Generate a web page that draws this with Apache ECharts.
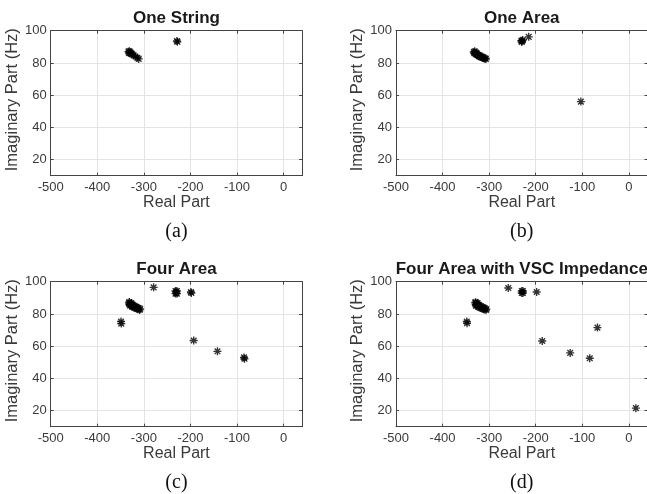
<!DOCTYPE html>
<html><head><meta charset="utf-8">
<script src="https://cdn.jsdelivr.net/npm/echarts@6/dist/echarts.min.js"></script>
<style>html,body{margin:0;padding:0;background:#fff;}#c{width:647px;height:494px;}</style>
</head><body><div id="c"></div>
<script>
const titles = ['One String', 'One Area', 'Four Area', 'Four Area with VSC Impedance'];
const captions = ['(a)', '(b)', '(c)', '(d)'];
const xTicks = [-500, -400, -300, -200, -100, 0];
const yTicks = [20, 40, 60, 80, 100];
const xRange = [-500, 40];
const yRange = [10, 100];
const xName = 'Real Part';
const yName = 'Imaginary Part (Hz)';

const oneString = [
  [-333, 87.0], [-332, 86.2], [-331, 87.3], [-330, 86.0], [-329, 86.6], [-327, 85.9],
  [-325, 85.4], [-322, 84.7], [-318, 84.0], [-314, 83.2], [-311, 82.5],
  [-229, 93.6], [-228, 93.1]
];
const oneArea = [
  [-333, 86.8], [-332, 86.0], [-331, 87.2], [-330, 86.2], [-329, 85.6], [-328, 86.4],
  [-327, 85.2], [-326, 85.8], [-325, 84.8], [-323, 84.9], [-322, 84.2], [-320, 84.5],
  [-319, 83.8], [-317, 83.6], [-316, 84.0], [-314, 83.1], [-312, 83.3], [-310, 82.6],
  [-308, 82.9], [-307, 82.4],
  [-231, 93.8], [-230, 93.0], [-229, 93.6], [-228, 94.2],
  [-215, 96.2], [-103, 56.0]
];
const fourArea = [
  [-332, 86.9], [-331, 86.0], [-331, 87.4], [-330, 85.2], [-329, 86.5], [-328, 85.6],
  [-327, 86.8], [-326, 84.8], [-325, 85.9], [-324, 84.4], [-323, 85.4], [-321, 84.0],
  [-320, 84.9], [-318, 83.6], [-317, 84.4], [-315, 83.2], [-314, 84.0], [-312, 82.9],
  [-311, 83.6], [-309, 82.5], [-308, 83.1],
  [-279, 96.5],
  [-232, 94.2], [-229, 94.2], [-232, 92.6], [-229, 92.6], [-230.5, 93.4],
  [-199, 93.6], [-198, 93.0],
  [-349, 75.3], [-348.5, 74.0],
  [-193, 63.5], [-142, 56.8], [-85, 53.0], [-84, 52.2]
];
const fourAreaVSC = [
  [-330, 86.9], [-329, 85.8], [-329, 87.3], [-328, 85.0], [-327, 86.5], [-326, 85.5],
  [-325, 86.8], [-324, 84.6], [-323, 85.8], [-322, 84.2], [-321, 85.3], [-319, 83.9],
  [-318, 84.8], [-316, 83.5], [-315, 84.3], [-313, 83.1], [-312, 83.9], [-310, 82.8],
  [-309, 83.5], [-307, 82.4], [-306, 83.0],
  [-259, 96.1],
  [-230, 94.2], [-227.5, 94.2], [-230, 93.0], [-227.5, 93.0],
  [-198, 93.6],
  [-348, 75.3], [-347.5, 74.2],
  [-186, 63.2], [-126, 55.8], [-84, 52.5], [-67.5, 71.5], [15, 21.5]
];
const panelData = [oneString, oneArea, fourArea, fourAreaVSC];

const boxes = [
  {left: 50.7, top: 30.7}, {left: 396, top: 30.7},
  {left: 50.7, top: 281.7}, {left: 396, top: 281.7}
];
const W = 251.5, H = 145;
const axisColor = '#444';
const labelColor = '#3a3a3a';
const gridColor = '#e4e4e4';
const SANS = 'Liberation Sans';

const star = 'path://M0,-10L0,10M-10,0L10,0M-7.07,-7.07L7.07,7.07M-7.07,7.07L7.07,-7.07';

const grid = [], xAxis = [], yAxis = [], series = [], graphic = [];
boxes.forEach((b, i) => {
  grid.push({left: b.left, top: b.top, width: W, height: H, show: false,
    containLabel: false, outerBoundsMode: 'none'});
  xAxis.push({
    gridIndex: i, type: 'value', min: xRange[0], max: xRange[1], position: 'bottom',
    axisLine: {show: true, onZero: false, lineStyle: {color: axisColor, width: 1}},
    axisTick: {show: true, inside: true, length: 3, customValues: xTicks, lineStyle: {color: axisColor}},
    axisLabel: {customValues: xTicks, margin: 5, color: labelColor, fontSize: 13, fontFamily: SANS},
    splitLine: {show: true, lineStyle: {color: gridColor, width: 1}},
    name: xName, nameLocation: 'middle', nameGap: 17,
    nameTextStyle: {color: labelColor, fontSize: 16, fontFamily: SANS}
  });
  xAxis.push({
    gridIndex: i, type: 'value', min: xRange[0], max: xRange[1], position: 'top',
    axisLine: {show: true, onZero: false, lineStyle: {color: axisColor, width: 1}},
    axisTick: {show: true, inside: true, length: 3, customValues: xTicks, lineStyle: {color: axisColor}},
    axisLabel: {show: false}, splitLine: {show: false}
  });
  yAxis.push({
    gridIndex: i, type: 'value', min: yRange[0], max: yRange[1], position: 'left',
    axisLine: {show: true, onZero: false, lineStyle: {color: axisColor, width: 1}},
    axisTick: {show: true, inside: true, length: 3, customValues: yTicks, lineStyle: {color: axisColor}},
    axisLabel: {customValues: yTicks, margin: 4, color: labelColor, fontSize: 13, fontFamily: SANS},
    splitLine: {show: true, lineStyle: {color: gridColor, width: 1}},
    name: yName, nameLocation: 'middle', nameGap: 28, nameRotate: 90,
    nameTextStyle: {color: labelColor, fontSize: 16.5, fontFamily: SANS, padding: [0, 0, 0, 7]}
  });
  yAxis.push({
    gridIndex: i, type: 'value', min: yRange[0], max: yRange[1], position: 'right',
    axisLine: {show: true, onZero: false, lineStyle: {color: axisColor, width: 1}},
    axisTick: {show: true, inside: true, length: 3, customValues: yTicks, lineStyle: {color: axisColor}},
    axisLabel: {show: false}, splitLine: {show: false}
  });
  series.push({
    type: 'scatter', xAxisIndex: 2 * i, yAxisIndex: 2 * i, data: panelData[i],
    symbol: star, symbolSize: 8,
    itemStyle: {color: 'transparent', borderColor: '#000', borderWidth: 1.35},
    emphasis: {disabled: true}, silent: true
  });
  const cx = b.left + W / 2;
  graphic.push({type: 'text', x: cx, y: b.top - 12.5,
    style: {text: titles[i], font: 'bold 17px "Liberation Sans"', fill: '#1a1a1a',
      textAlign: 'center', textVerticalAlign: 'middle'}});
  graphic.push({type: 'text', x: cx, y: b.top + 201.5,
    style: {text: captions[i], font: '20px "Liberation Serif"', fill: '#111',
      textAlign: 'center', textVerticalAlign: 'middle'}});
});

const chart = echarts.init(document.getElementById('c'), null, {renderer: 'canvas'});
chart.setOption({animation: false, backgroundColor: '#fff', grid, xAxis, yAxis, series, graphic});
</script>
</body></html>
